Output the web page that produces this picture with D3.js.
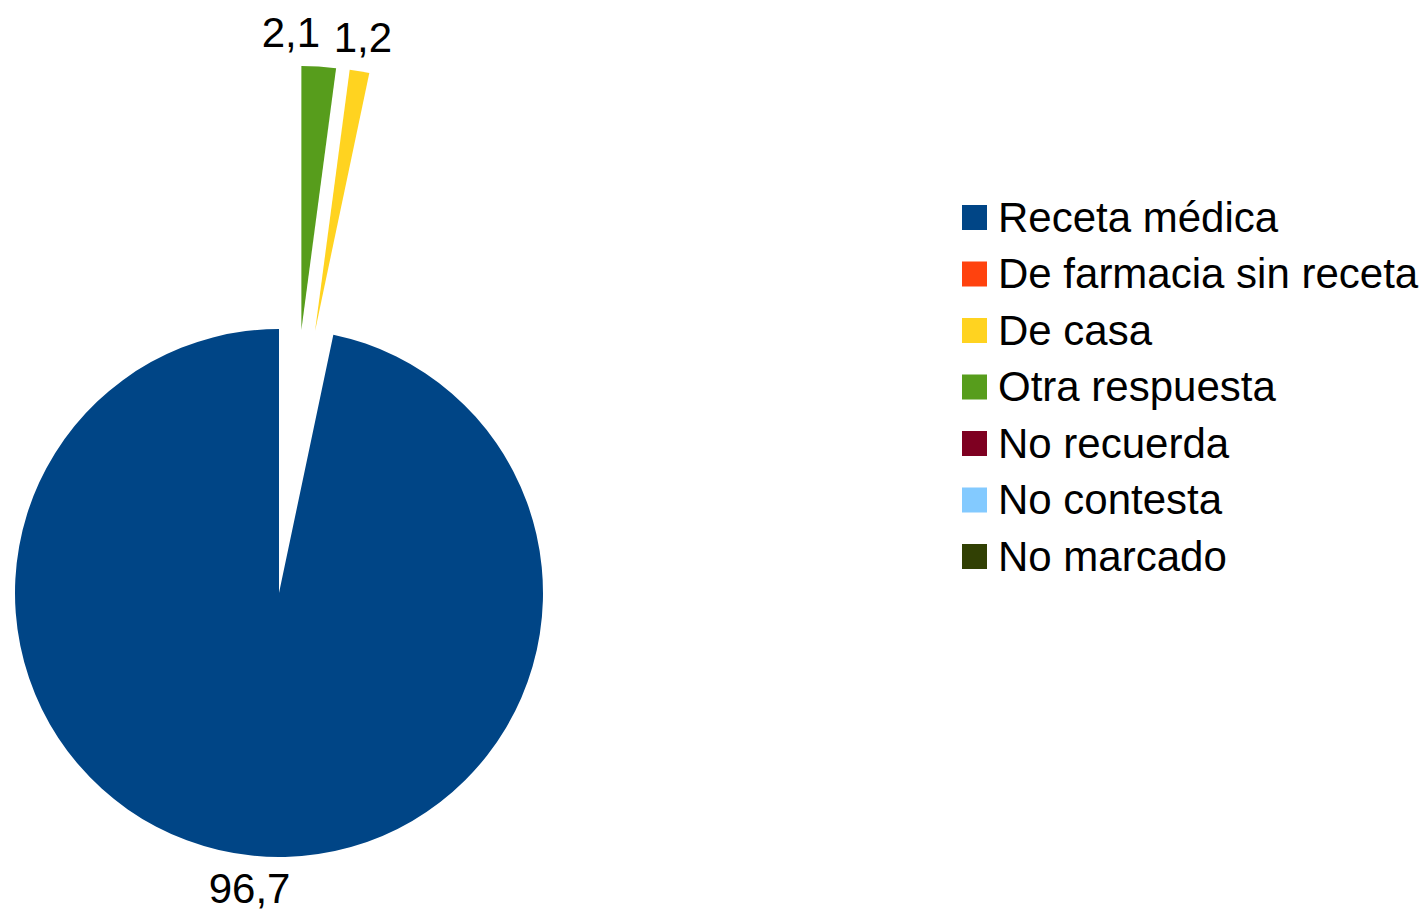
<!DOCTYPE html>
<html>
<head>
<meta charset="utf-8">
<script src="https://cdn.jsdelivr.net/npm/d3@7"></script>
<style>
  body { margin: 0; background: #fff; }
  text { font-family: "Liberation Sans", Arial, sans-serif; fill: #000; }
</style>
</head>
<body>
<script>
// data
const categories = ["Receta médica", "De farmacia sin receta", "De casa", "Otra respuesta", "No recuerda", "No contesta", "No marcado"]
const values = [96.7, 0, 1.2, 2.1, 0, 0, 0]
const labels = ["96,7", "0", "1,2", "2,1", "0", "0", "0"]

// styles
const colors = ["#004586", "#ff420e", "#ffd320", "#579d1c", "#7e0021", "#83caff", "#314004"]
const exploded = ["De casa", "Otra respuesta"]

const width = 1428
const height = 911
const cx = 279, cy = 593, r = 264
const explodeDist = r
const fontSize = 42

const svg = d3.select("body").append("svg")
    .attr("width", width)
    .attr("height", height)

const rows = categories.map((c, i) => ({cat: c, value: values[i], label: labels[i], color: colors[i]}))

// pie goes counter-clockwise from 12 o'clock
const pie = d3.pie().sort(null).value(d => d.value)
    .startAngle(0).endAngle(-2 * Math.PI)
const arcs = pie(rows)
const arc = d3.arc().innerRadius(0).outerRadius(r)

// the exploded slices are pushed out together
const grp = arcs.filter(a => exploded.includes(a.data.cat))
const grpMid = (d3.max(grp, a => a.startAngle) + d3.min(grp, a => a.endAngle)) / 2

arcs.forEach(a => {
    a.mid = (a.startAngle + a.endAngle) / 2
    let ox = 0, oy = 0
    if (exploded.includes(a.data.cat)) {
        const dir = (a.mid + grpMid) / 2
        ox = explodeDist * Math.sin(dir)
        oy = -explodeDist * Math.cos(dir)
    }
    a.ox = cx + ox
    a.oy = cy + oy
})

const shown = arcs.filter(a => a.data.value > 0)

const g = svg.append("g")

g.selectAll("path").data(shown)
  .enter().append("path")
    .attr("transform", d => `translate(${d.ox},${d.oy})`)
    .attr("d", arc)
    .attr("fill", d => d.data.color)

// value labels
const lp = 20
const lab = g.selectAll("text.val").data(shown)
  .enter().append("text")
    .attr("class", "val")
    .attr("x", d => d.ox + (r + lp) * Math.sin(d.mid))
    .attr("y", d => d.oy - (r + lp) * Math.cos(d.mid))
    .attr("dy", d => Math.cos(d.mid) > 0 ? 0 : "0.65em")
    .attr("text-anchor", "middle")
    .style("font-size", fontSize + "px")
    .text(d => d.data.label)

// simple overlap fix: a label that runs into its right neighbour is right-aligned
const nodes = lab.nodes().map(n => ({n, b: n.getBBox()})).sort((a, b) => a.b.x - b.b.x)
for (let i = 0; i < nodes.length - 1; i++) {
    const a = nodes[i].b, b = nodes[i + 1].b
    const vOverlap = a.y < b.y + b.height && b.y < a.y + a.height
    if (vOverlap && a.x + a.width > b.x) {
        d3.select(nodes[i].n).attr("text-anchor", "end")
    }
}

// legend
const legend = svg.append("g").attr("transform", "translate(962,205)")
const rowH = 56.5
const item = legend.selectAll("g").data(rows)
  .enter().append("g")
    .attr("transform", (d, i) => `translate(0,${i * rowH})`)

item.append("rect")
    .attr("width", 25)
    .attr("height", 25)
    .attr("fill", d => d.color)

item.append("text")
    .attr("x", 36)
    .attr("y", 26.5)
    .style("font-size", fontSize + "px")
    .text(d => d.cat)
</script>
</body>
</html>
